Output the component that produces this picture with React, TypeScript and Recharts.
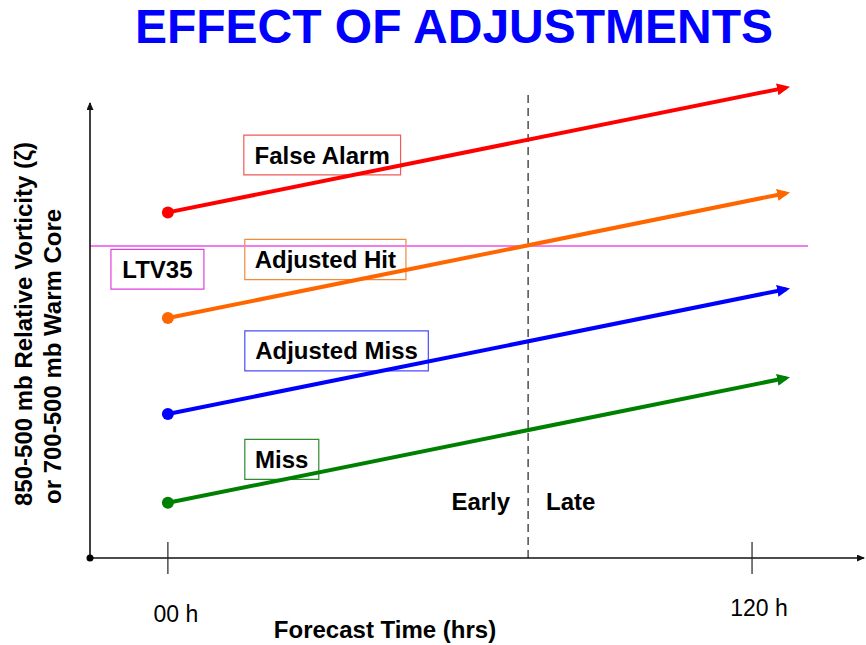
import React from "react";
import {
  LineChart,
  Line,
  XAxis,
  YAxis,
  ReferenceLine,
  ReferenceArea,
  ReferenceDot,
  Label,
} from "recharts";

// forecast hours at the start and end of each arrow
const hours = [0, 127];
const falseAlarm = [72, 98];
const adjustedHit = [50, 76];
const adjustedMiss = [30, 56];
const miss = [11.5, 37.5];

const ltv35Level = 65;
const earlyLateHour = 74;
const tickHours = [0, 120];
const tickLabels = ["00 h", "120 h"];

const series = [
  { key: "falseAlarm", values: falseAlarm, color: "#ff0000" },
  { key: "adjustedHit", values: adjustedHit, color: "#ff6600" },
  { key: "adjustedMiss", values: adjustedMiss, color: "#0000ff" },
  { key: "miss", values: miss, color: "#008000" },
];

// callout boxes, in chart units (hours / arbitrary vorticity)
const callouts = [
  { text: "False Alarm", x1: 15.6, x2: 47.8, y1: 79.8, y2: 88.1, color: "#f05a5a" },
  { text: "Adjusted Hit", x1: 15.8, x2: 48.9, y1: 58.0, y2: 66.4, color: "#f08a3c" },
  { text: "Adjusted Miss", x1: 15.8, x2: 53.5, y1: 39.0, y2: 47.3, color: "#4a4aff" },
  { text: "Miss", x1: 15.8, x2: 31.0, y1: 16.4, y2: 24.7, color: "#2e8b2e" },
  { text: "LTV35", x1: -11.7, x2: 7.4, y1: 56.0, y2: 64.3, color: "#e040e0" },
];

const rows = hours.map((h, i) => {
  const row: Record<string, number> = { hour: h };
  series.forEach((s) => (row[s.key] = s.values[i]));
  return row;
});

const FONT = "'Liberation Sans', Arial, sans-serif";

const TimeTick = (props: any) => {
  const { x, y, index } = props;
  const off = index === 0 ? { dx: 8, dy: 64 } : { dx: 7, dy: 58 };
  return (
    <g>
      <line x1={x} y1={y - 16} x2={x} y2={y + 16} stroke="#222" strokeWidth={1.2} />
      <text x={x + off.dx} y={y + off.dy} textAnchor="middle" fontSize={23} fill="#000">
        {tickLabels[index]}
      </text>
    </g>
  );
};

const axisShape = (p: any) => (
  <line
    x1={p.x1}
    y1={p.y1}
    x2={p.x2}
    y2={p.y2}
    stroke="#111"
    strokeWidth={1.6}
    markerEnd="url(#axisArrow)"
  />
);

const YLabel = () => {
  const l1 = { x: 32, y: 506 };
  const l2 = { x: 61, y: 504 };
  return (
    <g fontWeight="bold" fontSize={24} fill="#000">
      <text x={l1.x} y={l1.y} transform={`rotate(-90, ${l1.x}, ${l1.y})`}>
        850-500 mb Relative Vorticity (ζ)
      </text>
      <text x={l2.x} y={l2.y} transform={`rotate(-90, ${l2.x}, ${l2.y})`}>
        or 700-500 mb Warm Core
      </text>
    </g>
  );
};

const EarlyLate = (props: any) => {
  const { x, y, height } = props.viewBox;
  const base = y + height - 48;
  return (
    <g fontWeight="bold" fontSize={24} fill="#000">
      <text x={x - 18} y={base} textAnchor="end">Early</text>
      <text x={x + 18} y={base} textAnchor="start">Late</text>
    </g>
  );
};

export default function App() {
  return (
    <div style={{ position: "absolute", left: 0, top: 0, width: 866, height: 645, fontFamily: FONT, background: "#fff" }}>
      <div
        style={{
          position: "absolute",
          left: 0,
          top: 3,
          width: 908,
          textAlign: "center",
          fontSize: 48,
          lineHeight: "48px",
          fontWeight: "bold",
          color: "#0000ff",
        }}
      >
        EFFECT OF ADJUSTMENTS
      </div>
      <LineChart
        width={866}
        height={645}
        data={rows}
        margin={{ top: 78, right: 2, bottom: 0, left: 0 }}
        style={{ fontFamily: FONT }}
      >
        <defs>
          {series.map((s) => (
            <marker
              key={s.key}
              id={`arrow-${s.key}`}
              viewBox="0 0 13 12"
              refX={9}
              refY={6}
              markerWidth={13}
              markerHeight={12}
              markerUnits="userSpaceOnUse"
              orient="auto"
            >
              <path d="M0,0 L13,6 L0,12 z" fill={s.color} />
            </marker>
          ))}
          <marker
            id="axisArrow"
            viewBox="0 0 8 7"
            refX={7}
            refY={3.5}
            markerWidth={8}
            markerHeight={7}
            markerUnits="userSpaceOnUse"
            orient="auto"
          >
            <path d="M0,0 L8,3.5 L0,7 z" fill="#111" />
          </marker>
        </defs>
        <XAxis
          dataKey="hour"
          type="number"
          domain={[-16, 143]}
          ticks={tickHours}
          axisLine={false}
          tickLine={false}
          tickSize={0}
          tickMargin={0}
          height={87}
          tick={<TimeTick />}
          interval={0}
        >
          <Label
            value="Forecast Time (hrs)"
            position="insideBottom"
            dx={-92}
            dy={-2}
            fontSize={24}
            fontWeight="bold"
            fill="#000"
          />
        </XAxis>
        <YAxis
          type="number"
          domain={[0, 100]}
          width={90}
          axisLine={false}
          tickLine={false}
          tick={false}
          label={<YLabel />}
        />

        {callouts.map((c) => (
          <ReferenceArea
            key={c.text}
            x1={c.x1}
            x2={c.x2}
            y1={c.y1}
            y2={c.y2}
            fill="none"
            stroke={c.color}
            strokeWidth={1.2}
            label={{
              value: c.text,
              position: "center",
              fontSize: 24,
              fontWeight: "bold",
              fill: "#000",
            }}
          />
        ))}

        <ReferenceLine
          segment={[
            { x: -16, y: ltv35Level },
            { x: 131.5, y: ltv35Level },
          ]}
          stroke="#f07cf0"
          strokeWidth={2}
        />
        <ReferenceLine
          segment={[
            { x: earlyLateHour, y: 0 },
            { x: earlyLateHour, y: 97 },
          ]}
          stroke="#333"
          strokeWidth={1.3}
          strokeDasharray="8 5"
          label={<EarlyLate />}
        />
        <ReferenceLine
          segment={[
            { x: -16, y: 0 },
            { x: 143, y: 0 },
          ]}
          shape={axisShape}
        />
        <ReferenceLine
          segment={[
            { x: -16, y: 0 },
            { x: -16, y: 94.8 },
          ]}
          shape={axisShape}
        />
        <ReferenceDot x={-16} y={0} r={3.5} fill="#000" stroke="none" />

        {series.map((s) => (
          <Line
            key={s.key}
            dataKey={s.key}
            type="linear"
            stroke={s.color}
            strokeWidth={4}
            markerEnd={`url(#arrow-${s.key})`}
            isAnimationActive={false}
            activeDot={false}
            dot={(p: any) =>
              p.index === 0 ? (
                <circle key={`${s.key}-d${p.index}`} cx={p.cx} cy={p.cy} r={6} fill={s.color} />
              ) : (
                <g key={`${s.key}-d${p.index}`} />
              )
            }
          />
        ))}
      </LineChart>
    </div>
  );
}
